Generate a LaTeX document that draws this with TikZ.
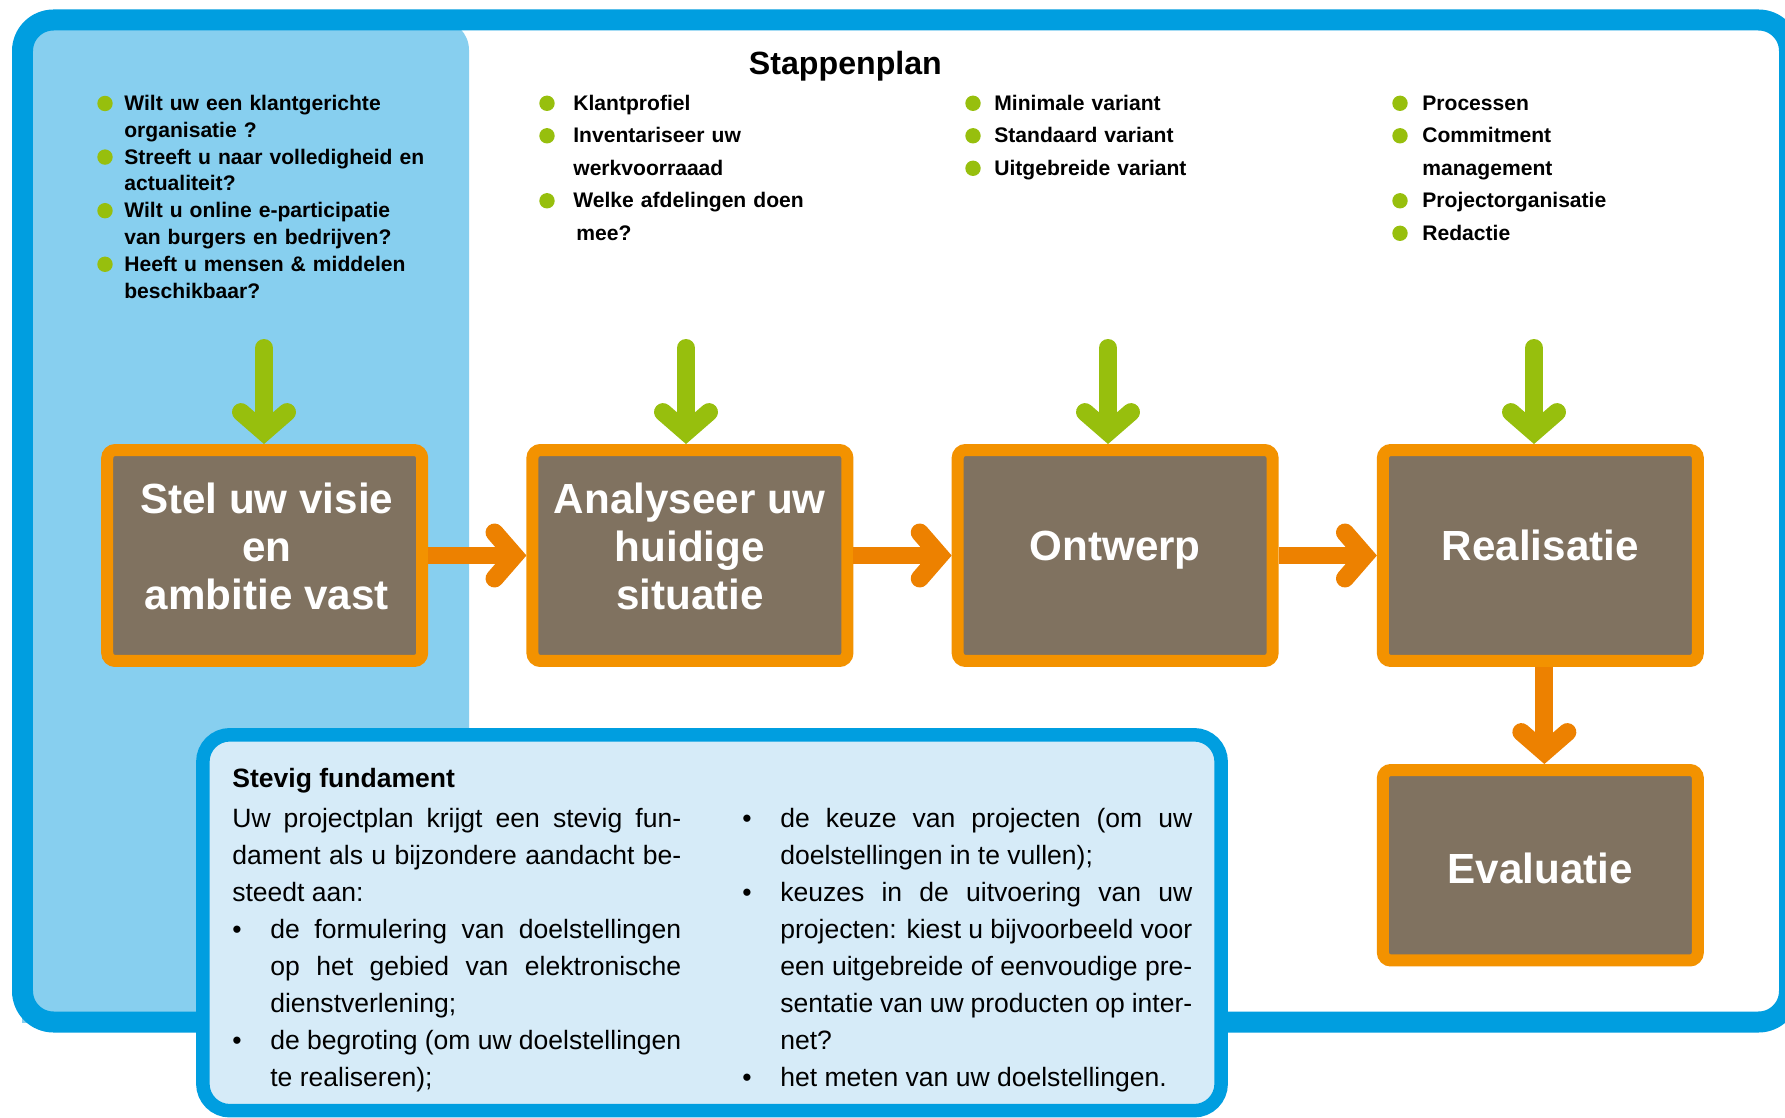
\documentclass[tikz,border=0pt]{standalone}
\usepackage{fontspec}
\setmainfont{Liberation Sans}
\usetikzlibrary{arrows.meta,calc}

\definecolor{kader}{RGB}{0,158,224}
\definecolor{paneel}{RGB}{135,207,239}
\definecolor{fundament}{RGB}{214,235,248}
\definecolor{bruin}{RGB}{128,114,96}
\definecolor{rand}{RGB}{243,146,0}
\definecolor{pijloranje}{RGB}{237,129,0}
\definecolor{groen}{RGB}{151,191,13}

\hyphenpenalty=10000
\newcommand{\puntlabel}[1]{#1\hfil}
\newenvironment{punten}{\begin{list}{\textbullet}{%
  \setlength{\leftmargin}{0.76cm}\setlength{\labelwidth}{0.76cm}%
  \setlength{\labelsep}{0pt}\setlength{\itemsep}{0pt}%
  \setlength{\parsep}{0pt}\setlength{\topsep}{0pt}%
  \setlength{\partopsep}{0pt}\let\makelabel\puntlabel}}{\end{list}}

\begin{document}
\begin{tikzpicture}[x=0.02cm, y=-0.02cm, node distance=8.506cm,
  stap/.style={draw=rand, fill=bruin, line width=0.24cm, rounded corners=0.16cm,
    minimum width=6.3cm, minimum height=4.22cm},
  staptekst/.style={text=white, font=\fontsize{24pt}{27.3pt}\selectfont\bfseries,
    align=center, anchor=base, inner sep=0pt},
  pijl/.style={pijloranje, line width=0.36cm,
    -{Straight Barb[length=0.4cm, width=0.92cm, line cap=round, line join=miter]}},
  groenepijl/.style={pijl, groen, line cap=round},
  vraag/.style={font=\fontsize{12pt}{15.25pt}\selectfont\bfseries, text width=6.6cm,
    align=left, anchor=base west, inner sep=0pt},
  stappen/.style={vraag, font=\fontsize{12pt}{18.5pt}\selectfont\bfseries, text width=6cm},
  tekst/.style={font=\fontsize{15.1pt}{21.1pt}\selectfont,
    text width=8.98cm, align=justify, anchor=base west, inner sep=0pt}]

\path[use as bounding box, fill=white] (0,0) rectangle (1785,1118);

\begin{scope}
\clip (0,0) rectangle (1785,1022);
\fill[paneel, rounded corners=0.6cm] (22,20) rectangle (469,1100);
\end{scope}
\draw[kader, line width=0.42cm, rounded corners=0.62cm] (22.5,20) rectangle (1789.5,1022);

\node[font=\fontsize{18.3pt}{22pt}\selectfont\bfseries, anchor=base] (titel) at (845.4,75) {Stappenplan};

\node[vraag] (vragen) at (124,110.5) {Wilt uw een klantgerichte\\organisatie ?\\Streeft u naar volledigheid en\\actualiteit?\\Wilt u online e-participatie\\van burgers en bedrijven?\\Heeft u mensen \& middelen\\beschikbaar?};
\node[stappen] (analysepunten) at (573,110.3) {Klantprofiel\\Inventariseer uw\\werkvoorraaad\\Welke afdelingen doen\\\hspace*{0.06cm}mee?};
\node[stappen] (varianten) at (994,110.3) {Minimale variant\\Standaard variant\\Uitgebreide variant};
\node[stappen] (realisatiepunten) at (1422,110.3) {Processen\\Commitment\\management\\Projectorganisatie\\Redactie};

\foreach \r in {0,2,4,6} \fill[groen] (105,103.5+26.8*\r) circle[radius=7.7];
\foreach \r in {0,1,3} \fill[groen] (547,103.3+32.5*\r) circle[radius=7.7];
\foreach \r in {0,1,2} \fill[groen] (973,103.3+32.5*\r) circle[radius=7.7];
\foreach \r in {0,1,3,4} \fill[groen] (1400,103.3+32.5*\r) circle[radius=7.7];

\node[stap] (visie) at (264.7,555.5) {};
\node[stap] (analyse) [right of=visie] {};
\node[stap] (ontwerp) [right of=analyse] {};
\node[stap] (realisatie) [right of=ontwerp] {};
\node[stap, minimum height=3.81cm] (evaluatie) [below of=realisatie, node distance=6.196cm] {};

\node[staptekst] (tvisie) at ($(visie)+(2,53.8)$) {Stel uw visie\\en\\ambitie vast};
\node[staptekst] (tanalyse) at ($(analyse)+(0,53.8)$) {Analyseer uw\\huidige\\situatie};
\node[staptekst] (tontwerp) at ($(ontwerp)+(0,5.2)$) {Ontwerp};
\node[staptekst] (trealisatie) at ($(realisatie)+(0,5.2)$) {Realisatie};
\node[staptekst] (tevaluatie) at ($(evaluatie)+(0,17.8)$) {Evaluatie};

\draw[pijl] (visie) -- (analyse);
\draw[pijl] (analyse) -- (ontwerp);
\draw[pijl] (ontwerp) -- (realisatie);
\draw[pijl] ([xshift=0.08cm]realisatie.south) -- ([xshift=0.08cm]evaluatie.north);

\foreach \x/\doel in {264/visie, 686/analyse, 1108/ontwerp, 1534/realisatie} {
  \coordinate (in-\doel) at (\x,348);
  \draw[groenepijl] (in-\doel) -- (in-\doel |- \doel.north);
}

\node[draw=kader, fill=fundament, line width=0.27cm, rounded corners=0.54cm,
  minimum width=20.37cm, minimum height=7.52cm] (fundament) at (712,922.75) {};

\node[tekst] (links) at (232,787.5) {\textbf{Stevig fundament}\\[0.05cm]
Uw projectplan krijgt een stevig fun-\linebreak dament als u bijzondere aandacht be-\linebreak steedt aan:
\begin{punten}
\item de formulering van doelstellingen\linebreak op het gebied van elektronische\linebreak dienstverlening;
\item de begroting (om uw doelstellingen\linebreak te realiseren);
\end{punten}};
\node[tekst, text width=9cm] (rechts) at (742,790) {\begin{punten}
\item de keuze van projecten (om uw\linebreak doelstellingen in te vullen);
\item keuzes in de uitvoering van uw\linebreak projecten: kiest u bijvoorbeeld voor\linebreak een uitgebreide of eenvoudige pre-\linebreak sentatie van uw producten op inter-\linebreak net?
\item het meten van uw doelstellingen.
\end{punten}};
\end{tikzpicture}
\end{document}
